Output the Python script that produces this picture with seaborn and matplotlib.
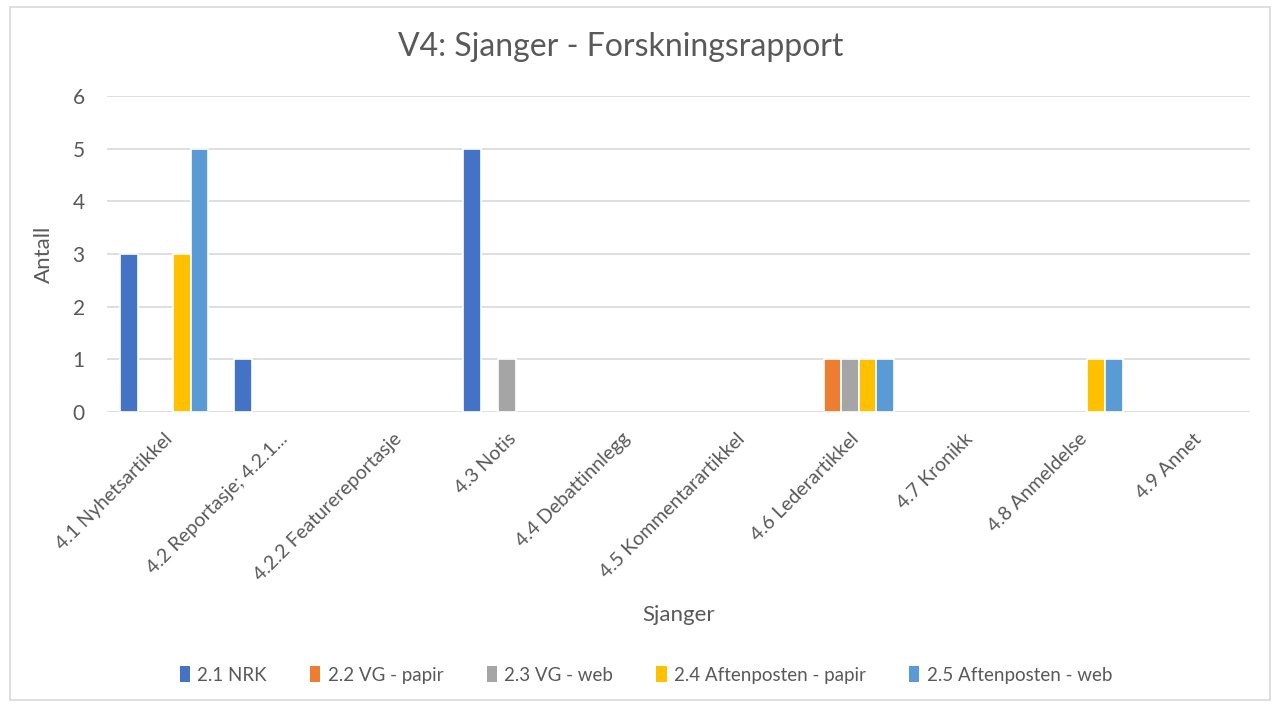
import matplotlib.pyplot as plt
import seaborn as sns
import pandas as pd
from matplotlib.patches import Rectangle, Patch

# Categories and series
categories = ['4.1 Nyhetsartikkel', '4.2 Reportasje; 4.2.1...', '4.2.2 Featurereportasje',
              '4.3 Notis', '4.4 Debattinnlegg', '4.5 Kommentarartikkel',
              '4.6 Lederartikkel', '4.7 Kronikk', '4.8 Anmeldelse', '4.9 Annet']
series = ['2.1 NRK', '2.2 VG - papir', '2.3 VG - web',
          '2.4 Aftenposten - papir', '2.5 Aftenposten - web']
nrk = [3, 1, 0, 5, 0, 0, 0, 0, 0, 0]
vg_papir = [0, 0, 0, 0, 0, 0, 1, 0, 0, 0]
vg_web = [0, 0, 0, 1, 0, 0, 1, 0, 0, 0]
ap_papir = [3, 0, 0, 0, 0, 0, 1, 0, 1, 0]
ap_web = [5, 0, 0, 0, 0, 0, 1, 0, 1, 0]
colors = ['#4472C4', '#ED7D31', '#A5A5A5', '#FFC000', '#5B9BD5']

# Long format for seaborn
rows = []
for name, vals in zip(series, [nrk, vg_papir, vg_web, ap_papir, ap_web]):
    for cat, v in zip(categories, vals):
        rows.append({'Sjanger': cat, 'Serie': name, 'Antall': v})
df = pd.DataFrame(rows)

sns.set_style('white')
plt.rcParams['font.family'] = ['Lato', 'DejaVu Sans']
text_col = '#595959'

fig = plt.figure(figsize=(12.77, 7.07), dpi=100)
ax = fig.add_axes([107 / 1277, 1 - 412 / 707, (1250 - 107) / 1277, (412 - 96) / 707])

sns.barplot(data=df, x='Sjanger', y='Antall', hue='Serie', order=categories,
            hue_order=series, palette=colors, width=0.77, dodge=True, saturation=1,
            edgecolor='white', linewidth=1.2, ax=ax, legend=False)

# drop empty bars so they leave no marks on the baseline
for p in list(ax.patches):
    if p.get_height() == 0:
        p.remove()

ax.set_ylim(0, 6)
ax.set_xlim(-0.5, len(categories) - 0.5)
ax.set_yticks(range(7))
ax.grid(axis='y', color='#D9D9D9', linewidth=1.2)
ax.set_axisbelow(True)
for s in ax.spines.values():
    s.set_visible(False)
ax.tick_params(axis='y', length=0, colors=text_col, labelsize=15, pad=16)
ax.tick_params(axis='x', length=0, colors=text_col, labelsize=14, pad=13)
plt.setp(ax.get_xticklabels(), rotation=45, ha='right', rotation_mode='anchor')

ax.set_xlabel('Sjanger', fontsize=16, color=text_col)
ax.set_ylabel('Antall', fontsize=16, color=text_col)
ax.xaxis.set_label_coords(0.5, -0.612)
ax.yaxis.set_label_coords(-0.046, 0.5)

fig.text(621 / 1277, 1 - 47 / 707, 'V4: Sjanger - Forskningsrapport', ha='center', va='center',
         fontsize=23, color=text_col)

handles = [Patch(facecolor=c, edgecolor='none') for c in colors]
fig.legend(handles, series, loc='center', bbox_to_anchor=(646 / 1277, 1 - 675 / 707), ncol=5,
           frameon=False, fontsize=13.5, handlelength=0.55, handleheight=0.9,
           handletextpad=0.4, columnspacing=2.3, labelcolor=text_col)

# chart border
fig.patches.append(Rectangle((10 / 1277, 7 / 707), 1260 / 1277, 693 / 707,
                             transform=fig.transFigure, fill=False,
                             edgecolor='#D9D9D9', linewidth=1.2))

fig.savefig('out.png', dpi=100)
